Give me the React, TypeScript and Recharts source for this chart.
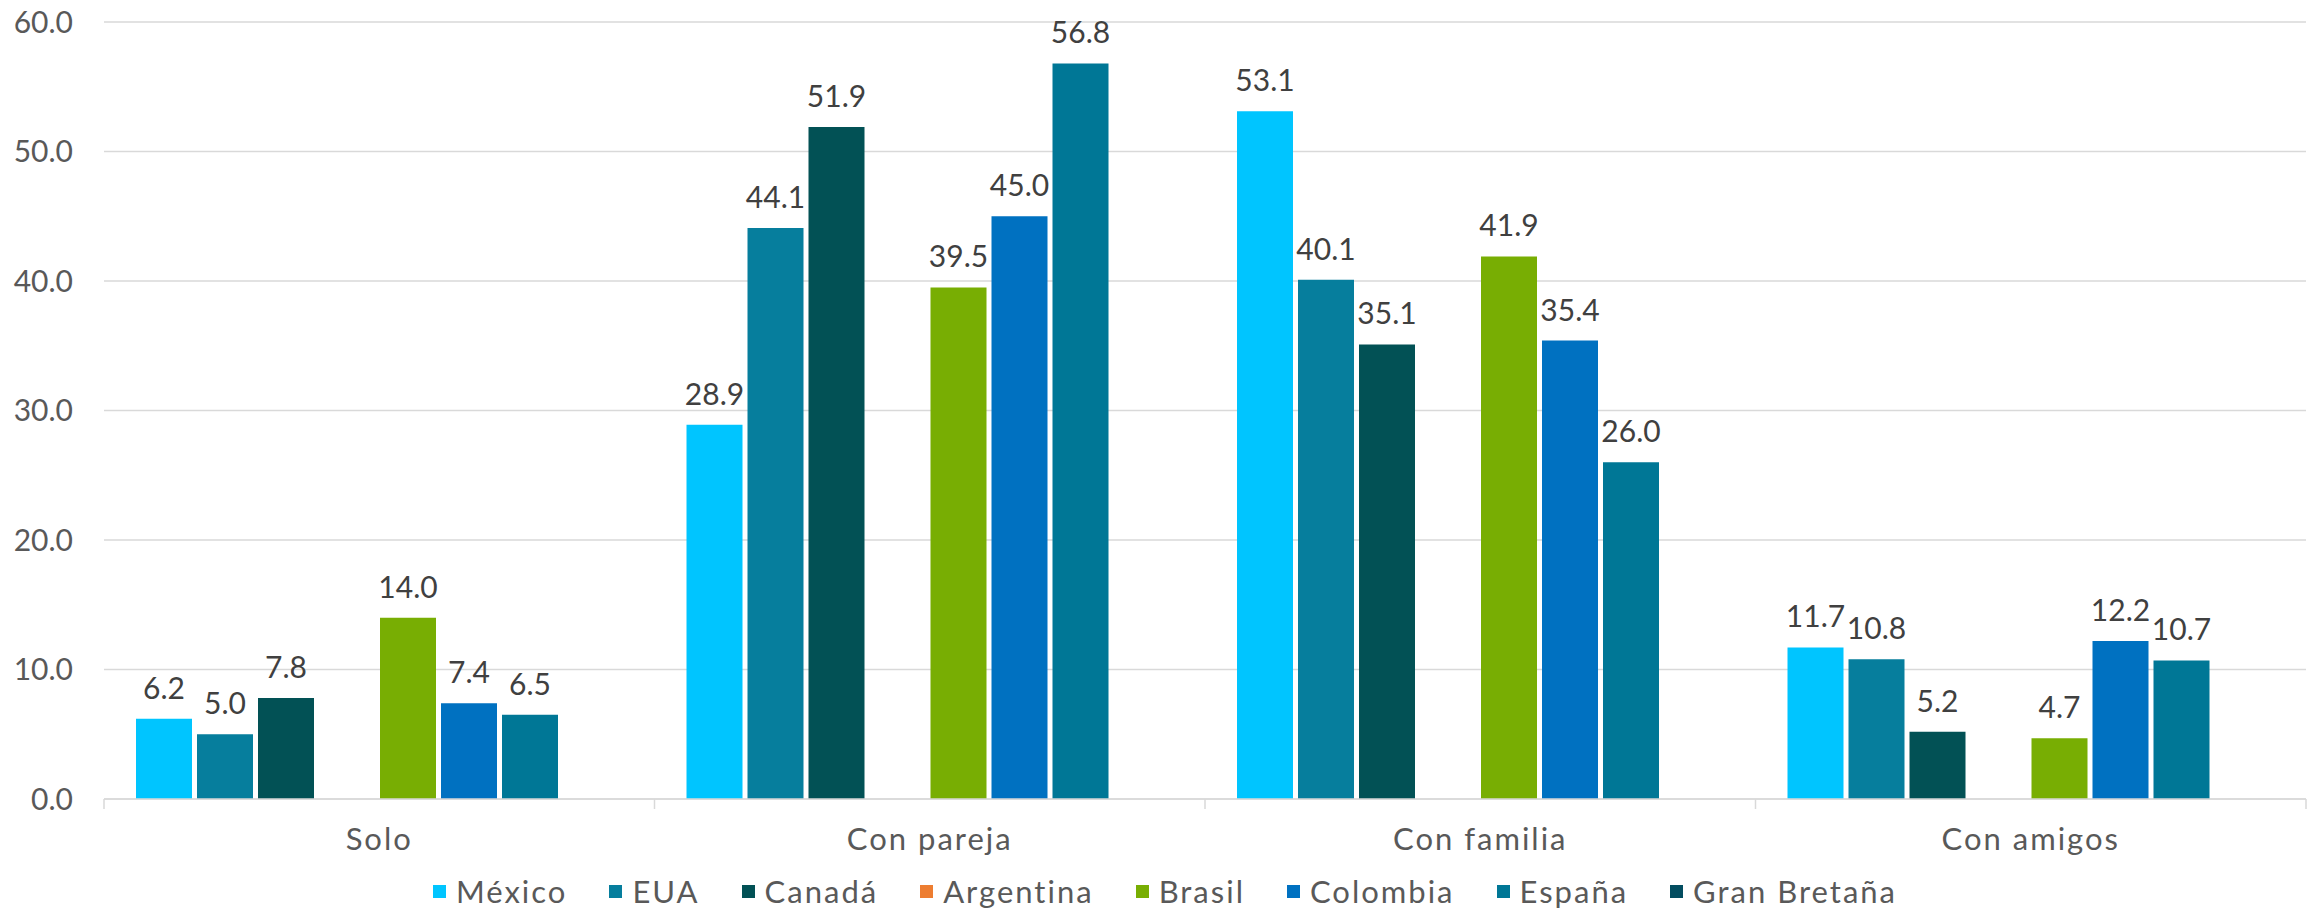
import React from 'react';
import { BarChart, Bar, XAxis, YAxis, CartesianGrid, Legend, LabelList } from 'recharts';

const categories = ['Solo', 'Con pareja', 'Con familia', 'Con amigos'];
const mexico = [6.2, 28.9, 53.1, 11.7];
const eua = [5.0, 44.1, 40.1, 10.8];
const canada = [7.8, 51.9, 35.1, 5.2];
const argentina: (number | null)[] = [null, null, null, null];
const brasil = [14.0, 39.5, 41.9, 4.7];
const colombia = [7.4, 45.0, 35.4, 12.2];
const espana = [6.5, 56.8, 26.0, 10.7];
const granBretana: (number | null)[] = [null, null, null, null];
const yTicks = [0, 10, 20, 30, 40, 50, 60];

const seriesNames = ['México', 'EUA', 'Canadá', 'Argentina', 'Brasil', 'Colombia', 'España', 'Gran Bretaña'];
const seriesColors = ['#00C5FF', '#067E9D', '#025155', '#ED7D31', '#78AE03', '#0071C1', '#007796', '#034D60'];
const seriesValues = [mexico, eua, canada, argentina, brasil, colombia, espana, granBretana];
const seriesKeys = seriesNames.map((_, i) => `s${i}`);

const data = categories.map((c, i) => {
  const row: Record<string, any> = { category: c };
  seriesValues.forEach((vals, j) => {
    row[seriesKeys[j]] = vals[i];
  });
  return row;
});

const FONT = 'Lato, "Open Sans", sans-serif';
const AXIS_GRAY = '#595959';
const LINE_GRAY = '#d9d9d9';

const CategoryTick = (props: any) => {
  const { x, y, payload, index, visibleTicksCount } = props;
  const half = payload && typeof payload.offset === 'number' ? payload.offset : 0;
  return (
    <g>
      <line x1={x - half} x2={x - half} y1={y} y2={y + 10} stroke={LINE_GRAY} strokeWidth={1.5} />
      {index === visibleTicksCount - 1 && (
        <line x1={x + half} x2={x + half} y1={y} y2={y + 10} stroke={LINE_GRAY} strokeWidth={1.5} />
      )}
      <text
        x={x}
        y={y + 51}
        textAnchor="middle"
        fill={AXIS_GRAY}
        fontSize={31}
        fontFamily={FONT}
        style={{ letterSpacing: '2px' }}
      >
        {payload.value}
      </text>
    </g>
  );
};

const LegendContent = (props: any) => {
  const raw = props.payload || [];
  const payload = [...raw].sort(
    (a: any, b: any) => seriesNames.indexOf(a.value) - seriesNames.indexOf(b.value)
  );
  return (
    <div
      style={{
        display: 'flex',
        justifyContent: 'center',
        alignItems: 'center',
        height: 40,
        fontFamily: FONT,
        fontSize: 31,
        color: AXIS_GRAY,
        paddingLeft: 24,
      }}
    >
      {payload.map((p: any, i: number) => (
        <div
          key={p.value}
          style={{ display: 'flex', alignItems: 'center', marginRight: i < payload.length - 1 ? 42 : 0 }}
        >
          <span style={{ display: 'inline-block', width: 13, height: 13, background: p.color, marginRight: 10 }} />
          <span style={{ letterSpacing: '2px', whiteSpace: 'nowrap' }}>{p.value}</span>
        </div>
      ))}
    </div>
  );
};

const fmt = (v: any) => (v === null || v === undefined ? '' : Number(v).toFixed(1));

export default function App() {
  return (
    <div style={{ width: 2321, height: 911, background: '#fff' }}>
      <style>{'body{margin:0;background:#fff}'}</style>
      <BarChart
        width={2321}
        height={911}
        data={data}
        margin={{ top: 22, right: 15, bottom: 0, left: 0 }}
        barCategoryGap={32}
        barGap={5}
      >
        <CartesianGrid vertical={false} stroke={LINE_GRAY} strokeWidth={1.5} />
        <XAxis
          dataKey="category"
          height={72}
          interval={0}
          tickLine={false}
          tickSize={0}
          tickMargin={0}
          axisLine={{ stroke: LINE_GRAY, strokeWidth: 1.5 }}
          tick={<CategoryTick />}
        />
        <YAxis
          width={104}
          domain={[0, 60]}
          ticks={yTicks}
          interval={0}
          axisLine={false}
          tickLine={false}
          tickSize={0}
          tickMargin={31}
          tickFormatter={(v: number) => v.toFixed(1)}
          tick={{ fill: AXIS_GRAY, fontSize: 30, fontFamily: FONT }}
        />
        <Legend verticalAlign="bottom" content={<LegendContent />} />
        {seriesKeys.map((k, i) => (
          <Bar key={k} dataKey={k} name={seriesNames[i]} fill={seriesColors[i]} isAnimationActive={false}>
            <LabelList
              dataKey={k}
              position="top"
              offset={20}
              formatter={fmt}
              fill="#404040"
              fontSize={30}
              fontFamily={FONT}
            />
          </Bar>
        ))}
      </BarChart>
    </div>
  );
}
